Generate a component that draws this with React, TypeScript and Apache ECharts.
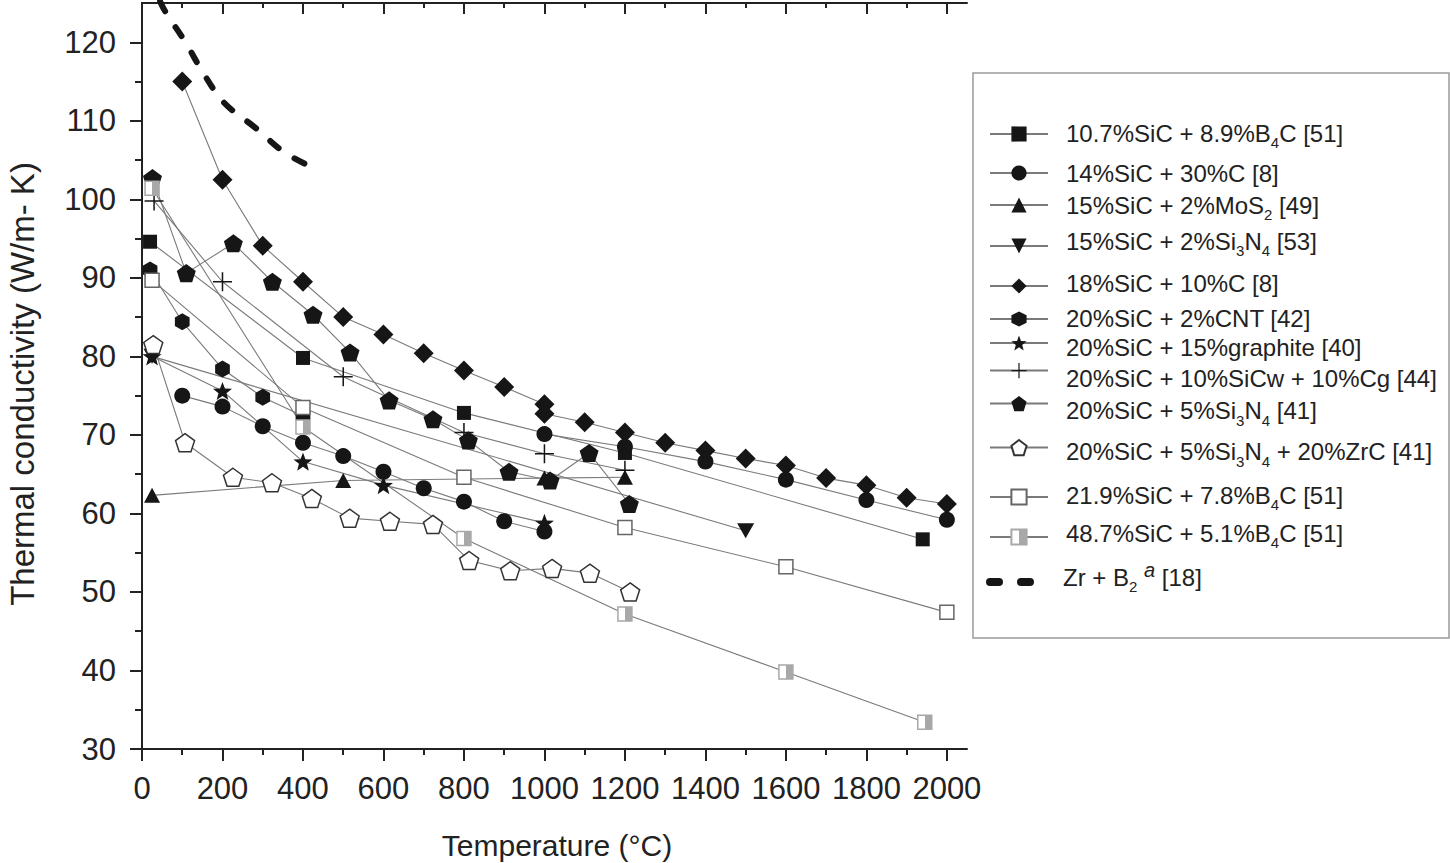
import React, { useEffect, useRef } from "react";
import * as echarts from "echarts";

const FONT = "'Liberation Sans', Arial, Helvetica, sans-serif";

// Axis ticks
const xMajorTicks = [0, 200, 400, 600, 800, 1000, 1200, 1400, 1600, 1800, 2000];
const xMinorTicks = [100, 300, 500, 700, 900, 1100, 1300, 1500, 1700, 1900];
const yMajorTicks = [30, 40, 50, 60, 70, 80, 90, 100, 110, 120];
const yMinorTicks = [35, 45, 55, 65, 75, 85, 95, 105, 115];

// Series data: [temperature (°C), thermal conductivity (W/m·K)]
const sic107B4c89 = [[20, 94.6], [400, 79.8], [800, 72.8], [1200, 67.7], [1940, 56.7]];
const sic14C30Low = [[100, 75.0], [200, 73.6], [300, 71.1], [400, 69.0], [500, 67.3], [600, 65.3], [700, 63.2], [800, 61.5], [900, 59.0], [1000, 57.7]];
const sic14C30High = [[1000, 70.1], [1200, 68.5], [1400, 66.6], [1600, 64.3], [1800, 61.7], [2000, 59.2]];
const sic15MoS2 = [[25, 62.3], [500, 64.2], [1000, 64.5], [1200, 64.6]];
const sic15Si3N4 = [[25, 80.0], [1500, 57.8]];
const sic18C10 = [[100, 115.0], [200, 102.5], [300, 94.1], [400, 89.5], [500, 85.0], [600, 82.8], [700, 80.4], [800, 78.2], [900, 76.1], [1000, 73.9], [1000, 72.7], [1100, 71.6], [1200, 70.3], [1300, 69.0], [1400, 68.0], [1500, 67.0], [1600, 66.1], [1700, 64.5], [1800, 63.6], [1900, 62.0], [2000, 61.2]];
const sic20Cnt2 = [[20, 91.0], [100, 84.4], [200, 78.4], [300, 74.8], [400, 72.4]];
const sic20Graphite15 = [[25, 80.0], [200, 75.6], [400, 66.6], [600, 63.6], [1000, 58.8]];
const sic20SiCw10Cg10 = [[30, 99.8], [200, 89.5], [500, 77.4], [800, 70.3], [1000, 67.6], [1200, 65.5]];
const sic20Si3N45 = [[26, 102.7], [110, 90.6], [227, 94.4], [324, 89.5], [425, 85.3], [517, 80.5], [614, 74.4], [723, 72.0], [811, 69.3], [912, 65.3], [1014, 64.2], [1111, 67.7], [1211, 61.2]];
const sic20Si3N45ZrC20 = [[28, 81.5], [107, 69.0], [226, 64.6], [323, 63.9], [422, 61.9], [516, 59.4], [616, 59.0], [723, 58.6], [813, 54.0], [915, 52.7], [1019, 53.0], [1113, 52.4], [1213, 50.0]];
const sic219B4c78 = [[25, 89.7], [400, 73.5], [800, 64.6], [1200, 58.2], [1600, 53.2], [2000, 47.4]];
const sic487B4c51 = [[25, 101.4], [400, 71.0], [800, 56.8], [1200, 47.2], [1600, 39.8], [1945, 33.4]];
const zrB2 = [[45, 125.2], [58, 123.9], [108, 120.0], [152, 116.1], [204, 112.3], [282, 109.1], [356, 105.9], [443, 103.6]];

// Legend names (plain) and their rich-text forms
const legendNames = [
  "10.7%SiC + 8.9%B4C [51]",
  "14%SiC + 30%C [8]",
  "15%SiC + 2%MoS2 [49]",
  "15%SiC + 2%Si3N4 [53]",
  "18%SiC + 10%C [8]",
  "20%SiC + 2%CNT [42]",
  "20%SiC + 15%graphite [40]",
  "20%SiC + 10%SiCw + 10%Cg [44]",
  "20%SiC + 5%Si3N4 [41]",
  "20%SiC + 5%Si3N4 + 20%ZrC [41]",
  "21.9%SiC + 7.8%B4C [51]",
  "48.7%SiC + 5.1%B4C [51]",
  "Zr + B2 a [18]",
];
const legendRichText = [
  "{n|10.7%SiC + 8.9%B}{s|4}{n|C [51]}",
  "{n|14%SiC + 30%C [8]}",
  "{n|15%SiC + 2%MoS}{s|2}{n| [49]}",
  "{n|15%SiC + 2%Si}{s|3}{n|N}{s|4}{n| [53]}",
  "{n|18%SiC + 10%C [8]}",
  "{n|20%SiC + 2%CNT [42]}",
  "{n|20%SiC + 15%graphite [40]}",
  "{n|20%SiC + 10%SiCw + 10%Cg [44]}",
  "{n|20%SiC + 5%Si}{s|3}{n|N}{s|4}{n| [41]}",
  "{n|20%SiC + 5%Si}{s|3}{n|N}{s|4}{n| + 20%ZrC [41]}",
  "{n|21.9%SiC + 7.8%B}{s|4}{n|C [51]}",
  "{n|48.7%SiC + 5.1%B}{s|4}{n|C [51]}",
  "{n|Zr + B}{s|2}{n| }{p|a}{n| [18]}",
];
const legendIconY = [139, 178, 210, 251, 291, 324, 356, 388, 420, 460, 502, 542, 582];
const legendTextY = [138, 178, 210, 246, 288, 323, 360, 396, 427, 464, 500, 538, 577];

const PENTAGON = "path://M10,0 L19.51,6.91 L15.88,18.09 L4.12,18.09 L0.49,6.91 Z";
const HEXAGON = "path://M8.66,0 L17.32,5 L17.32,15 L8.66,20 L0,15 L0,5 Z";
const STAR = "path://M10,0 L12.47,6.6 L19.51,6.91 L14,11.3 L15.88,18.09 L10,14.2 L4.12,18.09 L6,11.3 L0.49,6.91 L7.53,6.6 Z";
const PLUS = "path://M9.2,0 L10.8,0 L10.8,9.2 L20,9.2 L20,10.8 L10.8,10.8 L10.8,20 L9.2,20 L9.2,10.8 L0,10.8 L0,9.2 L9.2,9.2 Z";
const DASH_ICON = "path://M4,0 L13,0 A4,4 0 0 1 13,8 L4,8 A4,4 0 0 1 4,0 Z M35,0 L44,0 A4,4 0 0 1 44,8 L35,8 A4,4 0 0 1 35,0 Z";

const DARK = "#161616";
const LINE = { color: "#7a7a7a", width: 1.1 };

function buildOption() {
  const mk = (name: string, data: number[][], symbol: string, size: any, itemStyle: any, extra: any = {}) => ({
    type: "line",
    name,
    data,
    symbol,
    symbolSize: size,
    symbolKeepAspect: true,
    lineStyle: LINE,
    itemStyle,
    emphasis: { disabled: true },
    ...extra,
  });
  const filled = { color: DARK };
  const halfFill = new echarts.graphic.LinearGradient(0, 0, 1, 0, [
    { offset: 0, color: "#ffffff" },
    { offset: 0.5, color: "#ffffff" },
    { offset: 0.5, color: "#a8a8a8" },
    { offset: 1, color: "#a8a8a8" },
  ]);

  const series: any[] = [
    mk(legendNames[0], sic107B4c89, "rect", 14, filled),
    mk(legendNames[1], sic14C30Low, "circle", 16, filled),
    mk(legendNames[1], sic14C30High, "circle", 16, filled),
    mk(legendNames[2], sic15MoS2, "triangle", [16, 15], filled),
    mk(legendNames[3], sic15Si3N4, "triangle", [17, 15], filled, { symbolRotate: 180 }),
    mk(legendNames[4], sic18C10, "diamond", 20, filled),
    mk(legendNames[5], sic20Cnt2, HEXAGON, 17, filled),
    mk(legendNames[6], sic20Graphite15, STAR, 19, filled),
    mk(legendNames[7], sic20SiCw10Cg10, PLUS, 19, filled),
    mk(legendNames[8], sic20Si3N45, PENTAGON, 19, filled),
    mk(legendNames[9], sic20Si3N45ZrC20, PENTAGON, 19, { color: "#ffffff", borderColor: "#333", borderWidth: 1.5 }),
    mk(legendNames[10], sic219B4c78, "rect", 14, { color: "#ffffff", borderColor: "#666", borderWidth: 1.5 }),
    mk(legendNames[11], sic487B4c51, "rect", 14, { color: halfFill, borderColor: "#a8a8a8", borderWidth: 1.5 }),
    {
      type: "line",
      name: legendNames[12],
      data: zrB2,
      symbol: "none",
      smooth: 0.35,
      itemStyle: { color: DARK },
      lineStyle: { color: DARK, width: 6, type: [11, 19], cap: "round" },
      emphasis: { disabled: true },
    },
  ];

  const rich = {
    n: { fontSize: 24, lineHeight: 34, fontFamily: FONT, color: "#222" },
    s: { fontSize: 15, lineHeight: 14, fontFamily: FONT, color: "#222", verticalAlign: "bottom" },
    p: { fontSize: 20, lineHeight: 14, fontFamily: FONT, color: "#222", fontStyle: "italic", verticalAlign: "top" },
  };

  const legends = legendNames.map((nm, i) => {
    const iconY = legendIconY[i];
    const d = legendTextY[i] - iconY;
    const pt = d > 0 ? 2 * d : 0;
    const pb = d < 0 ? -2 * d : 0;
    const H = 34 + pt + pb;
    const isZr = i === 12;
    return {
      data: isZr ? [{ name: nm, icon: DASH_ICON }] : [nm],
      left: isZr ? 986 : 989,
      top: iconY - H / 2,
      orient: "vertical",
      padding: 0,
      itemWidth: isZr ? 48 : 58,
      itemHeight: isZr ? 8 : 19,
      selectedMode: false,
      formatter: () => legendRichText[i],
      textStyle: { padding: [pt, 0, pb, isZr ? 24 : 13], rich, fontFamily: FONT, fontSize: 24, color: "#222" },
    };
  });

  const axisLineStyle = { color: "#222", width: 2 };
  const tickStyle = { color: "#222", width: 2 };
  const labelStyle = { fontSize: 31, fontFamily: FONT, color: "#222", formatter: (v: number) => String(v) };

  const xBase = { type: "value", min: 0, max: 2050, splitLine: { show: false } };
  const yBase = { type: "value", min: 30, max: 125, splitLine: { show: false } };

  const xAxis = [
    { ...xBase, position: "bottom", axisLine: { lineStyle: axisLineStyle }, axisTick: { customValues: xMajorTicks, length: 12, lineStyle: tickStyle }, axisLabel: { ...labelStyle, customValues: xMajorTicks, margin: 24 } },
    { ...xBase, position: "bottom", axisLine: { show: false }, axisTick: { customValues: xMinorTicks, length: 6, lineStyle: tickStyle }, axisLabel: { show: false } },
    { ...xBase, position: "top", axisLine: { lineStyle: axisLineStyle }, axisTick: { customValues: xMajorTicks.slice(1), length: 11, inside: true, lineStyle: tickStyle }, axisLabel: { show: false } },
    { ...xBase, position: "top", axisLine: { show: false }, axisTick: { customValues: xMinorTicks, length: 5, inside: true, lineStyle: tickStyle }, axisLabel: { show: false } },
  ];
  const yAxis = [
    { ...yBase, position: "left", axisLine: { show: true, lineStyle: axisLineStyle }, axisTick: { show: true, customValues: yMajorTicks, length: 12, lineStyle: tickStyle }, axisLabel: { ...labelStyle, customValues: yMajorTicks, margin: 26 } },
    { ...yBase, position: "left", axisLine: { show: false }, axisTick: { show: true, customValues: yMinorTicks, length: 7, lineStyle: tickStyle }, axisLabel: { show: false } },
    { ...yBase, position: "right", axisLine: { show: true, lineStyle: axisLineStyle }, axisTick: { show: true, customValues: yMajorTicks.slice(1), length: 10, inside: true, lineStyle: tickStyle }, axisLabel: { show: false } },
    { ...yBase, position: "right", axisLine: { show: false }, axisTick: { show: true, customValues: yMinorTicks, length: 5, inside: true, lineStyle: tickStyle }, axisLabel: { show: false } },
  ];

  return {
    animation: false,
    backgroundColor: "#ffffff",
    textStyle: { fontFamily: FONT },
    grid: { left: 142, top: 3, right: 483, bottom: 114, containLabel: false },
    xAxis,
    yAxis,
    legend: legends,
    series,
    graphic: [
      { type: "rect", silent: true, shape: { x: 973, y: 73, width: 476, height: 565 }, style: { fill: "none", stroke: "#9a9a9a", lineWidth: 1.5 } },
      { type: "text", silent: true, x: 22, y: 384, rotation: Math.PI / 2, style: { text: "Thermal conductivity (W/m- K)", fontSize: 33, fontFamily: FONT, fill: "#222", align: "center", verticalAlign: "middle" } },
      { type: "text", silent: true, x: 557, y: 845, style: { text: "Temperature (°C)", fontSize: 30, fontFamily: FONT, fill: "#222", align: "center", verticalAlign: "middle" } },
    ],
  };
}

export default function App() {
  const ref = useRef<HTMLDivElement>(null);
  useEffect(() => {
    if (!ref.current) return;
    const chart = echarts.init(ref.current, null, { renderer: "svg" });
    chart.setOption(buildOption() as any);
    return () => chart.dispose();
  }, []);
  return <div ref={ref} style={{ position: "fixed", left: 0, top: 0, width: 1450, height: 863, background: "#fff" }} />;
}
